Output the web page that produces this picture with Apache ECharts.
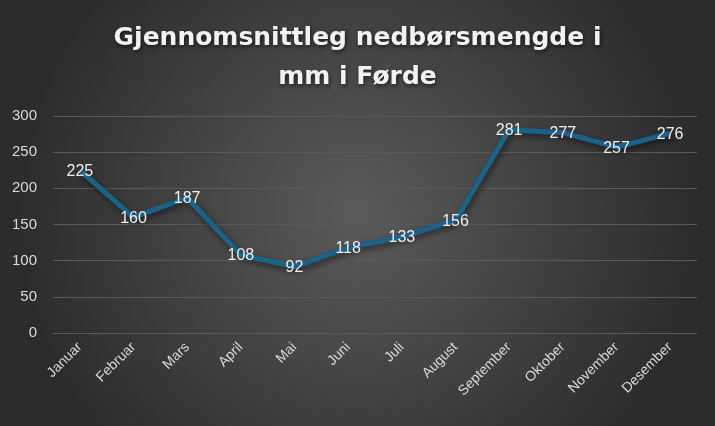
<!DOCTYPE html>
<html><head><meta charset="utf-8">
<script src="https://cdn.jsdelivr.net/npm/echarts@6/dist/echarts.min.js"></script>
<style>html,body{margin:0;padding:0;background:#333}#c{width:715px;height:426px}</style>
</head><body><div id="c"></div>
<script>
const categories = ['Januar','Februar','Mars','April','Mai','Juni','Juli','August','September','Oktober','November','Desember'];
const values = [225,160,187,108,92,118,133,156,281,277,257,276];
const titleText = 'Gjennomsnittleg nedbørsmengde i\nmm i Førde';

const chart = echarts.init(document.getElementById('c'));
chart.setOption({
  animation: false,
  backgroundColor: {type:'radial', x:0.5, y:0.5, r:0.8, colorStops:[{offset:0,color:'#5b5b5b'},{offset:1,color:'#2c2c2c'}]},
  title: {
    text: titleText, left: 'center', top: 14,
    textStyle: {fontFamily:'DejaVu Sans', fontWeight:'bold', fontSize:25, lineHeight:39, color:'#f2f2f2',
      textShadowColor:'rgba(0,0,0,0.6)', textShadowBlur:4, textShadowOffsetX:1, textShadowOffsetY:2}
  },
  grid: {left:53, right:18, top:116, bottom:93},
  xAxis: {
    type:'category', data:categories, boundaryGap:true,
    axisLine:{show:false}, axisTick:{show:false},
    axisLabel:{rotate:45, margin:12, color:'#d9d9d9', fontSize:14, fontFamily:'Liberation Sans', interval:0}
  },
  yAxis: {
    type:'value', min:0, max:300, interval:50,
    axisLine:{show:false}, axisTick:{show:false},
    axisLabel:{color:'#d9d9d9', fontSize:15, fontFamily:'Liberation Sans', margin:16},
    splitLine:{lineStyle:{color:'#595959', width:1}}
  },
  series: [{
    type:'line', data:values, symbol:'circle', symbolSize:2, showSymbol:true,
    itemStyle:{color:'rgba(0,0,0,0)', borderWidth:0},
    lineStyle:{color:'#1a6388', width:5, shadowColor:'rgba(0,0,0,0.55)', shadowBlur:6, shadowOffsetX:2, shadowOffsetY:3},
    label:{show:true, position:'top', distance:-10, color:'#eeeeee', fontSize:16, fontFamily:'Liberation Sans'}
  }]
});
</script></body></html>
